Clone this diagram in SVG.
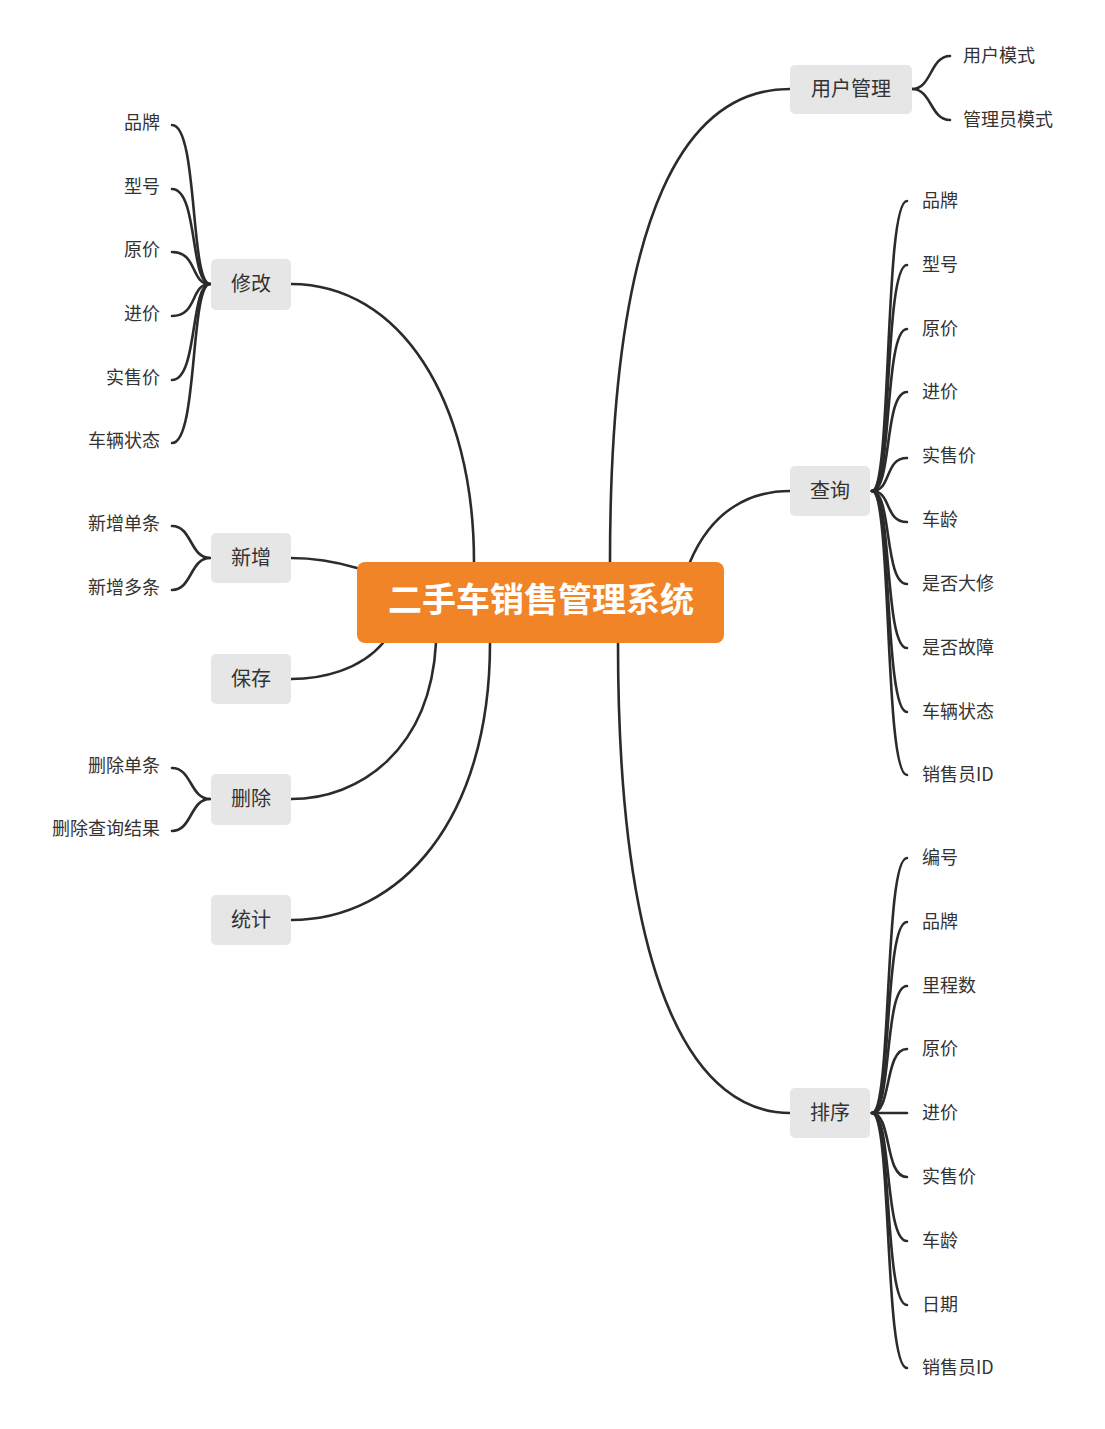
<svg xmlns="http://www.w3.org/2000/svg" width="1105" height="1429" viewBox="0 0 1105 1429">
<style>
.bg{fill:#ffffff}
.c{fill:none;stroke:#2b2b2b;stroke-width:2.6;stroke-linecap:round}
.b rect{fill:#e6e6e6}
.b text{font-family:"Noto Sans CJK SC","Noto Sans",sans-serif;font-size:20px;fill:#333333;text-anchor:middle;dominant-baseline:central}
.l{font-family:"Noto Sans CJK SC","Noto Sans",sans-serif;font-size:18px;fill:#333333;dominant-baseline:central}
.r{text-anchor:end}
</style>
<rect class="bg" x="0" y="0" width="1105" height="1429"/>
<g id="connectors">
<path class="c" d="M610,562 C610,200 690,89 790,89"/>
<path class="c" d="M690,562 C712,510 750,491 790,491"/>
<path class="c" d="M618,643 C618,1000 700,1113 790,1113"/>
<path class="c" d="M474,562 C474,400 400,284 291,284"/>
<path class="c" d="M357,568 C330,560 312,558 291,558"/>
<path class="c" d="M383,643 C360,670 322,679 291,679"/>
<path class="c" d="M436,643 C430,750 360,799 291,799"/>
<path class="c" d="M490,643 C490,820 400,920 291,920"/>
<path class="c" d="M912,89 C932,89 930,56 950,56"/>
<path class="c" d="M912,89 C932,89 930,120 950,120"/>
<path class="c" d="M872,491 C892,491 884,201 907,201"/>
<path class="c" d="M872,491 C892,491 884,265 907,265"/>
<path class="c" d="M872,491 C892,491 884,329 907,329"/>
<path class="c" d="M872,491 C892,491 884,392 907,392"/>
<path class="c" d="M872,491 C892,491 884,458 907,458"/>
<path class="c" d="M872,491 C892,491 884,522 907,522"/>
<path class="c" d="M872,491 C892,491 884,584 907,584"/>
<path class="c" d="M872,491 C892,491 884,648 907,648"/>
<path class="c" d="M872,491 C892,491 884,712 907,712"/>
<path class="c" d="M872,491 C892,491 884,775 907,775"/>
<path class="c" d="M872,1113 C892,1113 884,858 907,858"/>
<path class="c" d="M872,1113 C892,1113 884,922 907,922"/>
<path class="c" d="M872,1113 C892,1113 884,986 907,986"/>
<path class="c" d="M872,1113 C892,1113 884,1049 907,1049"/>
<path class="c" d="M872,1113 L907,1113"/>
<path class="c" d="M872,1113 C892,1113 884,1177 907,1177"/>
<path class="c" d="M872,1113 C892,1113 884,1241 907,1241"/>
<path class="c" d="M872,1113 C892,1113 884,1305 907,1305"/>
<path class="c" d="M872,1113 C892,1113 884,1368 907,1368"/>
<path class="c" d="M210,284 C190,284 198,125 172,125"/>
<path class="c" d="M210,284 C190,284 198,189 172,189"/>
<path class="c" d="M210,284 C190,284 198,252 172,252"/>
<path class="c" d="M210,284 C190,284 198,316 172,316"/>
<path class="c" d="M210,284 C190,284 198,380 172,380"/>
<path class="c" d="M210,284 C190,284 198,443 172,443"/>
<path class="c" d="M210,558 C190,558 192,526 172,526"/>
<path class="c" d="M210,558 C190,558 192,590 172,590"/>
<path class="c" d="M210,799 C190,799 192,768 172,768"/>
<path class="c" d="M210,799 C190,799 192,831 172,831"/>
</g>
<g id="center">
<rect x="357" y="562" width="367" height="81" rx="8" fill="#f08427"/>
<text x="541" y="597" font-family="Noto Sans CJK SC,sans-serif" font-size="34" font-weight="bold" fill="#ffffff" text-anchor="middle" dominant-baseline="central">二手车销售管理系统</text>
</g>
<g id="n-user" class="b"><rect x="790" y="65" width="122" height="49" rx="5"/><text x="851" y="87">用户管理</text></g>
<g id="n-query" class="b"><rect x="790" y="466" width="80" height="50" rx="5"/><text x="830" y="489">查询</text></g>
<g id="n-sort" class="b"><rect x="790" y="1088" width="80" height="50" rx="5"/><text x="830" y="1111">排序</text></g>
<g id="n-edit" class="b"><rect x="211" y="259" width="80" height="51" rx="5"/><text x="251" y="282">修改</text></g>
<g id="n-add" class="b"><rect x="211" y="533" width="80" height="50" rx="5"/><text x="251" y="556">新增</text></g>
<g id="n-save" class="b"><rect x="211" y="654" width="80" height="50" rx="5"/><text x="251" y="677">保存</text></g>
<g id="n-del" class="b"><rect x="211" y="774" width="80" height="51" rx="5"/><text x="251" y="797">删除</text></g>
<g id="n-stat" class="b"><rect x="211" y="895" width="80" height="50" rx="5"/><text x="251" y="918">统计</text></g>
<g id="leaves-user">
<text class="l" x="963" y="54">用户模式</text>
<text class="l" x="963" y="118">管理员模式</text>
</g>
<g id="leaves-query">
<text class="l" x="922" y="199">品牌</text>
<text class="l" x="922" y="263">型号</text>
<text class="l" x="922" y="327">原价</text>
<text class="l" x="922" y="390">进价</text>
<text class="l" x="922" y="454">实售价</text>
<text class="l" x="922" y="518">车龄</text>
<text class="l" x="922" y="582">是否大修</text>
<text class="l" x="922" y="646">是否故障</text>
<text class="l" x="922" y="710">车辆状态</text>
<text class="l" x="922" y="773">销售员ID</text>
</g>
<g id="leaves-sort">
<text class="l" x="922" y="856">编号</text>
<text class="l" x="922" y="920">品牌</text>
<text class="l" x="922" y="984">里程数</text>
<text class="l" x="922" y="1047">原价</text>
<text class="l" x="922" y="1111">进价</text>
<text class="l" x="922" y="1175">实售价</text>
<text class="l" x="922" y="1239">车龄</text>
<text class="l" x="922" y="1303">日期</text>
<text class="l" x="922" y="1366">销售员ID</text>
</g>
<g id="leaves-edit">
<text class="l r" x="160" y="121">品牌</text>
<text class="l r" x="160" y="185">型号</text>
<text class="l r" x="160" y="248">原价</text>
<text class="l r" x="160" y="312">进价</text>
<text class="l r" x="160" y="376">实售价</text>
<text class="l r" x="160" y="439">车辆状态</text>
</g>
<g id="leaves-add">
<text class="l r" x="160" y="522">新增单条</text>
<text class="l r" x="160" y="586">新增多条</text>
</g>
<g id="leaves-del">
<text class="l r" x="160" y="764">删除单条</text>
<text class="l r" x="160" y="827">删除查询结果</text>
</g>
</svg>
